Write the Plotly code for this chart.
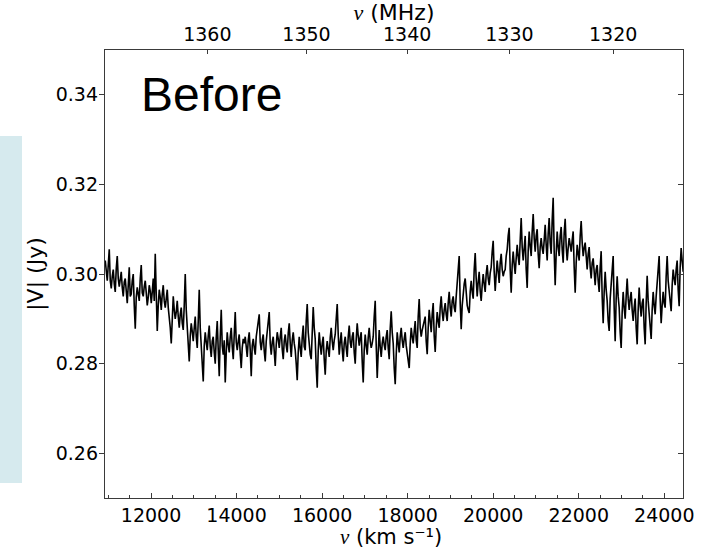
import numpy as np
import plotly.graph_objects as go

# channel grid (km/s)
v_start = 10930.0
v_step = 23.375

# |V| in Jy: even channels
flux_even = [
    0.3030, 0.2985, 0.3055, 0.2968, 0.3010, 0.2960, 0.3040, 0.2972, 0.3005, 0.2950,
    0.2990, 0.2935, 0.3015, 0.2955, 0.3000, 0.2878, 0.2970, 0.2940, 0.3020, 0.2950,
    0.2985, 0.2930, 0.2975, 0.2935, 0.2990, 0.3045, 0.2873, 0.2965, 0.2920, 0.2975,
    0.2925, 0.2965, 0.2905, 0.2845, 0.2950, 0.2900, 0.2940, 0.2880, 0.2925, 0.2875,
    0.3000, 0.2880, 0.2805, 0.2890, 0.2850, 0.2905, 0.2835, 0.2965, 0.2845, 0.2760,
    0.2870, 0.2830, 0.2885, 0.2815, 0.2860, 0.2800, 0.2895, 0.2772, 0.2920, 0.2820,
    0.2758, 0.2870, 0.2825, 0.2880, 0.2810, 0.2915, 0.2830, 0.2865, 0.2790, 0.2855,
    0.2860, 0.2815, 0.2870, 0.2772, 0.2855, 0.2820, 0.2880, 0.2910, 0.2830, 0.2865,
    0.2805, 0.2875, 0.2915, 0.2820, 0.2860, 0.2795, 0.2870, 0.2835, 0.2880, 0.2810,
    0.2865, 0.2825, 0.2890, 0.2815, 0.2870, 0.2830, 0.2763, 0.2860, 0.2815, 0.2885,
    0.2830, 0.2933, 0.2840, 0.2810, 0.2926, 0.2855, 0.2746, 0.2870, 0.2820, 0.2860,
    0.2775, 0.2850, 0.2815, 0.2880, 0.2830, 0.2865, 0.2933, 0.2820, 0.2870, 0.2805,
    0.2860, 0.2815, 0.2885, 0.2835, 0.2870, 0.2800, 0.2890, 0.2840, 0.2870, 0.2758,
    0.2865, 0.2820, 0.2880, 0.2835, 0.2860, 0.2940, 0.2768, 0.2875, 0.2815, 0.2860,
    0.2830, 0.2875, 0.2810, 0.2917, 0.2845, 0.2754, 0.2870, 0.2825, 0.2880, 0.2835,
    0.2870, 0.2820, 0.2790, 0.2880, 0.2845, 0.2895, 0.2835, 0.2944, 0.2860, 0.2885,
    0.2905, 0.2821, 0.2920, 0.2870, 0.2935, 0.2826, 0.2915, 0.2880, 0.2950, 0.2895,
    0.2935, 0.2895, 0.2960, 0.2905, 0.2950, 0.2915, 0.2975, 0.3040, 0.2877, 0.2965,
    0.2990, 0.2930, 0.2913, 0.2985, 0.2945, 0.3047, 0.2950, 0.3005, 0.2940, 0.3000,
    0.2960, 0.3020, 0.2975, 0.3015, 0.3074, 0.2962, 0.3030, 0.2980, 0.3045, 0.2995,
    0.3010, 0.3055, 0.3103, 0.2958, 0.3050, 0.3000, 0.3065, 0.3020, 0.3125, 0.3030,
    0.3085, 0.2969, 0.3095, 0.3040, 0.3134, 0.3050, 0.3100, 0.3013, 0.3080, 0.3045,
    0.3110, 0.3030, 0.3125, 0.3045, 0.3170, 0.2975, 0.3095, 0.3040, 0.3105, 0.3025,
    0.3123, 0.3030, 0.3080, 0.3050, 0.3095, 0.2958, 0.3065, 0.3030, 0.3118, 0.3040,
    0.3070, 0.3010, 0.3060, 0.2990, 0.3035, 0.2975, 0.3020, 0.2960, 0.3051, 0.2890,
    0.3005, 0.2940, 0.2873, 0.2985, 0.3040, 0.2850, 0.2995, 0.2925, 0.2835, 0.2960,
    0.2900, 0.2990, 0.2920, 0.2960, 0.2895, 0.2945, 0.2843, 0.2970, 0.2905, 0.2945,
    0.2843, 0.2996, 0.2915, 0.2855, 0.2960, 0.2910, 0.2975, 0.3040, 0.2890, 0.2960,
    0.2925, 0.3040, 0.2960, 0.2917, 0.3010, 0.2975, 0.3030, 0.2928, 0.3058, 0.3005,
]

# |V| in Jy: odd channels
flux_odd = [
    0.3002, 0.3020, 0.2985, 0.2995, 0.2978, 0.3012, 0.2990, 0.2988, 0.2970, 0.2982,
    0.2962, 0.2975, 0.2950, 0.2985, 0.2930, 0.2948, 0.2955, 0.2990, 0.2958, 0.2972,
    0.2958, 0.2948, 0.2962, 0.2960, 0.2940, 0.2955, 0.2930, 0.2948, 0.2955, 0.2940,
    0.2945, 0.2925, 0.2880, 0.2902, 0.2920, 0.2915, 0.2905, 0.2910, 0.2890, 0.2930,
    0.2920, 0.2860, 0.2862, 0.2872, 0.2880, 0.2860, 0.2895, 0.2880, 0.2808, 0.2840,
    0.2848, 0.2862, 0.2838, 0.2850, 0.2825, 0.2858, 0.2830, 0.2860, 0.2840, 0.2852,
    0.2825, 0.2842, 0.2860, 0.2838, 0.2865, 0.2848, 0.2850, 0.2822, 0.2835, 0.2845,
    0.2838, 0.2852, 0.2830, 0.2840, 0.2835, 0.2860, 0.2890, 0.2848, 0.2852, 0.2828,
    0.2850, 0.2892, 0.2845, 0.2848, 0.2828, 0.2842, 0.2855, 0.2860, 0.2832, 0.2850,
    0.2840, 0.2868, 0.2845, 0.2852, 0.2845, 0.2800, 0.2825, 0.2835, 0.2858, 0.2838,
    0.2895, 0.2870, 0.2820, 0.2875, 0.2880, 0.2790, 0.2830, 0.2842, 0.2845, 0.2810,
    0.2828, 0.2832, 0.2858, 0.2850, 0.2852, 0.2900, 0.2865, 0.2848, 0.2832, 0.2845,
    0.2835, 0.2860, 0.2848, 0.2860, 0.2825, 0.2855, 0.2862, 0.2858, 0.2805, 0.2830,
    0.2840, 0.2858, 0.2850, 0.2845, 0.2905, 0.2840, 0.2825, 0.2838, 0.2845, 0.2842,
    0.2860, 0.2835, 0.2878, 0.2870, 0.2790, 0.2820, 0.2845, 0.2860, 0.2852, 0.2855,
    0.2840, 0.2798, 0.2845, 0.2860, 0.2872, 0.2852, 0.2905, 0.2880, 0.2875, 0.2890,
    0.2850, 0.2880, 0.2895, 0.2910, 0.2862, 0.2880, 0.2895, 0.2925, 0.2915, 0.2920,
    0.2910, 0.2935, 0.2925, 0.2940, 0.2925, 0.2950, 0.3005, 0.2935, 0.2930, 0.2978,
    0.2955, 0.2920, 0.2960, 0.2960, 0.3010, 0.2990, 0.2982, 0.2962, 0.2975, 0.2978,
    0.3000, 0.2990, 0.3002, 0.3050, 0.3005, 0.2998, 0.3005, 0.3025, 0.3010, 0.3005,
    0.3040, 0.3085, 0.3010, 0.3020, 0.3022, 0.3035, 0.3038, 0.3075, 0.3060, 0.3058,
    0.3010, 0.3052, 0.3062, 0.3095, 0.3080, 0.3085, 0.3045, 0.3060, 0.3058, 0.3075,
    0.3065, 0.3090, 0.3070, 0.3120, 0.3050, 0.3045, 0.3060, 0.3085, 0.3055, 0.3092,
    0.3062, 0.3058, 0.3065, 0.3075, 0.3015, 0.3025, 0.3045, 0.3085, 0.3070, 0.3058,
    0.3040, 0.3045, 0.3015, 0.3025, 0.3005, 0.3010, 0.2985, 0.3015, 0.2950, 0.2960,
    0.2965, 0.2895, 0.2945, 0.3020, 0.2925, 0.2945, 0.2950, 0.2870, 0.2915, 0.2925,
    0.2950, 0.2945, 0.2945, 0.2920, 0.2925, 0.2880, 0.2920, 0.2930, 0.2935, 0.2880,
    0.2935, 0.2940, 0.2880, 0.2920, 0.2930, 0.2950, 0.3005, 0.2945, 0.2930, 0.2935,
    0.2995, 0.2985, 0.2935, 0.2975, 0.2990, 0.3010, 0.2965, 0.3015, 0.3030, 0.3010,
]

# interleave the two channel sets in channel order
flux = [val for pair in zip(flux_even, flux_odd) for val in pair]
velocity = v_start + v_step * np.arange(len(flux))

# tick labels
x_ticks = [12000, 14000, 16000, 18000, 20000, 22000, 24000]
x_ticklabels = ["12000", "14000", "16000", "18000", "20000", "22000", "24000"]
y_ticks = [0.26, 0.28, 0.30, 0.32, 0.34]
y_ticklabels = ["0.26", "0.28", "0.30", "0.32", "0.34"]
freq_ticks = [1360, 1350, 1340, 1330, 1320]

X_RANGE = [10924, 24437]
Y_RANGE = [0.25, 0.35]

C_KMS = 299792.458
NU0 = 1420.405752
freq_pos = [C_KMS * (NU0 / f - 1.0) for f in freq_ticks]

TICK_FONT = dict(family="DejaVu Sans", size=19, color="black")
TITLE_FONT = dict(family="DejaVu Sans", size=22, color="black")
LINE_COL = "#3a3a3a"

fig = go.Figure()
fig.add_trace(go.Scatter(x=velocity, y=flux, mode="lines",
                         line=dict(color="black", width=1.6),
                         showlegend=False, hoverinfo="skip"))
# invisible trace to activate the top / right axes
fig.add_trace(go.Scatter(x=[X_RANGE[0]], y=[Y_RANGE[0]], xaxis="x2", yaxis="y2",
                         mode="markers", marker=dict(opacity=0), showlegend=False,
                         hoverinfo="skip"))

serif_v = "<span style=\"font-family:'Liberation Serif'\"><i>v</i></span>"
serif_nu = "<span style=\"font-family:'Liberation Serif'\"><i>ν</i></span>"

fig.update_layout(
    width=713, height=550,
    margin=dict(l=105, r=30, t=50, b=52, autoexpand=False),
    paper_bgcolor="white", plot_bgcolor="white",
    xaxis=dict(
        range=X_RANGE, tickvals=x_ticks, ticktext=x_ticklabels, ticks="inside",
        ticklen=5, tickwidth=1, tickcolor=LINE_COL, showline=True, linecolor=LINE_COL,
        linewidth=1.3, showgrid=False, zeroline=False, tickfont=TICK_FONT,
        automargin=False,
        minor=dict(dtick=500, tick0=0, ticks="inside", ticklen=3, tickcolor=LINE_COL,
                   showgrid=False),
    ),
    xaxis2=dict(
        overlaying="x", side="top", range=X_RANGE, tickvals=freq_pos,
        ticktext=[str(f) for f in freq_ticks], ticks="inside", ticklen=4,
        tickcolor=LINE_COL, showline=True, linecolor=LINE_COL, linewidth=1.3,
        showgrid=False, zeroline=False, tickfont=TICK_FONT, automargin=False,
        title=dict(text=serif_nu + " (MHz)", font=TITLE_FONT, standoff=0),
    ),
    yaxis=dict(
        range=Y_RANGE, tickvals=y_ticks, ticktext=y_ticklabels, ticks="outside",
        ticklen=5, tickcolor=LINE_COL, showline=True, linecolor=LINE_COL,
        linewidth=1.3, showgrid=False, zeroline=False, tickfont=TICK_FONT,
        automargin=False, ticklabelstandoff=-3,
        title=dict(text="|V| (Jy)", font=TITLE_FONT, standoff=6),
    ),
    yaxis2=dict(
        overlaying="y", side="right", range=Y_RANGE, tickvals=y_ticks,
        ticks="inside", ticklen=5, tickcolor=LINE_COL, showline=True,
        linecolor=LINE_COL, linewidth=1.3, showgrid=False, zeroline=False,
        showticklabels=False, automargin=False,
    ),
    shapes=[dict(type="rect", xref="paper", yref="paper",
                 x0=-105 / 578, x1=-83 / 578, y0=(498 - 483) / 448, y1=(498 - 136) / 448,
                 fillcolor="#d6eaee", line=dict(width=0), layer="below")],
    annotations=[
        dict(x=11720, y=0.34, xref="x", yref="y", text="Before",
             showarrow=False, xanchor="left", yanchor="middle",
             font=dict(family="Liberation Sans", size=48, color="black")),
        dict(x=(391 - 105) / 578, y=(498 - 537) / 448, xref="paper", yref="paper",
             text=serif_v + " (km s⁻¹)", showarrow=False, borderpad=0,
             xanchor="center", yanchor="middle",
             font=dict(family="DejaVu Sans", size=21, color="black")),
    ],
)

fig.write_html("out.html")
